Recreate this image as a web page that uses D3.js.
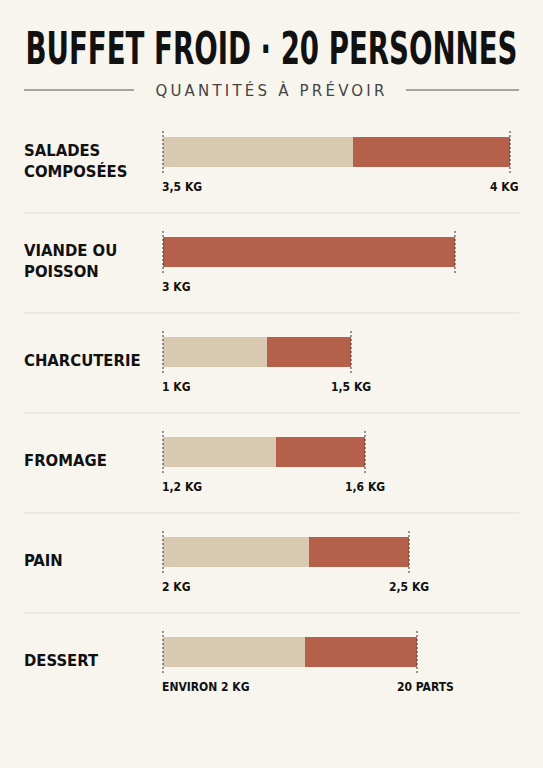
<!DOCTYPE html>
<html><head><meta charset="utf-8">
<script src="https://cdn.jsdelivr.net/npm/d3@7"></script>
<style>body{margin:0;background:#f8f5ef}</style></head>
<body><svg id="c" width="543" height="768"></svg>
<script>
const categories = [["SALADES","COMPOSÉES"],["VIANDE OU","POISSON"],["CHARCUTERIE"],["FROMAGE"],["PAIN"],["DESSERT"]];
// relative bar lengths (same units)
const lowValues  = [190, 0, 104, 113, 146, 142];
const highValues = [347, 292, 188, 202, 246, 254];
const lowLabels  = ["3,5 KG","3 KG","1 KG","1,2 KG","2 KG","ENVIRON 2 KG"];
const highLabels = ["4 KG","","1,5 KG","1,6 KG","2,5 KG","20 PARTS"];

const svg = d3.select("#c");
const font = "'DejaVu Sans Condensed','DejaVu Sans',sans-serif";
svg.append("rect").attr("width",543).attr("height",768).attr("fill","#f8f5ef");
svg.append("text").attr("x",271.5).attr("y",64).attr("text-anchor","middle")
  .attr("font-family",font).attr("font-weight","bold").attr("font-size",44)
  .attr("textLength",492).attr("lengthAdjust","spacingAndGlyphs").attr("fill","#111")
  .text("BUFFET FROID · 20 PERSONNES");
svg.append("text").attr("x",271.5).attr("y",96).attr("text-anchor","middle")
  .attr("font-family","'DejaVu Sans',sans-serif").attr("font-size",15).attr("letter-spacing",3.2)
  .attr("fill","#444").text("QUANTITÉS À PRÉVOIR");
svg.append("line").attr("x1",24).attr("x2",134).attr("y1",90).attr("y2",90).attr("stroke","#555");
svg.append("line").attr("x1",406).attr("x2",519).attr("y1",90).attr("y2",90).attr("stroke","#555");

const x = d3.scaleLinear().domain([0,347]).range([163,510]);
const y = d3.scaleBand().domain(d3.range(categories.length)).range([113,713]);
categories.forEach((c,i)=>{
  const top = y(i), by = top+24, bh = 30;
  if(i>0) svg.append("line").attr("x1",24).attr("x2",519).attr("y1",top).attr("y2",top).attr("stroke","#ddd");
  const lt = svg.append("text").attr("font-family",font).attr("font-weight","bold").attr("font-size",16.5).attr("fill","#111");
  const cy = by+bh/2+8;
  c.forEach((l,j)=>lt.append("tspan").attr("x",24).attr("y",cy+6+(j-(c.length-1)/2)*21).text(l));
  svg.append("rect").attr("x",x(0)).attr("y",by).attr("width",x(highValues[i])-x(0)).attr("height",bh).attr("fill","#b5604a");
  if(lowValues[i]>0) svg.append("rect").attr("x",x(0)).attr("y",by).attr("width",x(lowValues[i])-x(0)).attr("height",bh).attr("fill","#d9c9b0");
  const ticks=[0,highValues[i]];
  ticks.forEach(t=>svg.append("line").attr("x1",x(t)).attr("x2",x(t)).attr("y1",by-6).attr("y2",by+bh+6)
    .attr("stroke","#333").attr("stroke-dasharray","2,2"));
  svg.append("text").attr("x",x(0)-1).attr("y",by+bh+24).attr("font-family",font).attr("font-weight","bold")
    .attr("font-size",12).attr("fill","#111").text(lowLabels[i]);
  if(highLabels[i]) svg.append("text").attr("x",x(highValues[i])-20).attr("y",by+bh+24).attr("font-family",font).attr("font-weight","bold")
    .attr("font-size",12).attr("fill","#111").text(highLabels[i]);
});
</script></body></html>
